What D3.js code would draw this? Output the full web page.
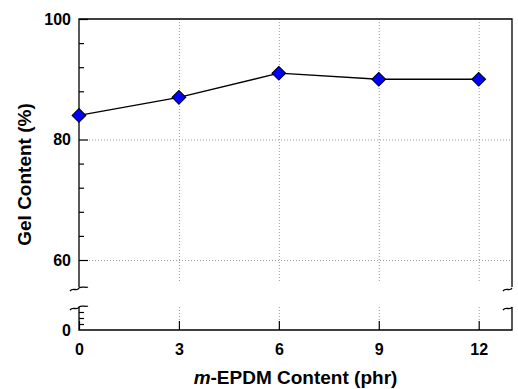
<!DOCTYPE html>
<html>
<head>
<meta charset="utf-8">
<script src="https://cdn.jsdelivr.net/npm/d3@7"></script>
<style>
  body { margin: 0; background: #fff; }
  svg { display: block; font-family: "Liberation Sans", Arial, sans-serif; }
  .tick text { font-weight: bold; font-size: 16px; fill: #000; }
</style>
</head>
<body>
<div id="vis-container"></div>
<script>
// ------------------------------ DATA ------------------------------ //
const epdmContent = [0, 3, 6, 9, 12];
const gelContent = [84, 87, 91, 90, 90];
const xTicks = [0, 3, 6, 9, 12];
const yMajorTicks = [60, 80, 100];
const yMinorTicks = [64, 68, 72, 76, 84, 88, 92, 96];
const yGrid = [60, 80];
const lowerMinorTicks = [1, 2, 3];

// ------------------------------ SET UP ------------------------------ //
const width = 518;
const height = 389;
const plot = { left: 79, right: 512, top: 19, bottom: 330 };
const breakTop = 287;      // end of the upper axis segment
const breakBottom = 307;   // start of the lower axis segment

const svg = d3.select("#vis-container")
  .append("svg")
  .attr("width", width)
  .attr("height", height);

// Scales
const x = d3.scaleLinear().domain([0, 13]).range([plot.left, plot.right]);
const y = d3.scaleLinear().domain([60, 100]).range([260, plot.top]);
const yLow = d3.scaleLinear().domain([0, 4]).range([plot.bottom, 306]);

// ------------------------------ GRID ------------------------------ //
const dotted = { stroke: "#9a9a9a", dash: "1,2" };

svg.append("g").selectAll("line")
  .data(yGrid)
  .join("line")
  .attr("x1", plot.left + 10)
  .attr("x2", plot.right)
  .attr("y1", d => y(d) + 0.5)
  .attr("y2", d => y(d) + 0.5)
  .attr("stroke", dotted.stroke)
  .attr("stroke-dasharray", dotted.dash);

const vGrid = svg.append("g");
xTicks.filter(d => d > 0).forEach(d => {
  vGrid.append("line")
    .attr("x1", x(d) + 0.5).attr("x2", x(d) + 0.5)
    .attr("y1", plot.top).attr("y2", breakTop - 4)
    .attr("stroke", dotted.stroke)
    .attr("stroke-dasharray", dotted.dash);
  vGrid.append("line")
    .attr("x1", x(d) + 0.5).attr("x2", x(d) + 0.5)
    .attr("y1", breakBottom).attr("y2", plot.bottom - 9)
    .attr("stroke", dotted.stroke)
    .attr("stroke-dasharray", dotted.dash);
});

// ------------------------------ AXES ------------------------------ //
// Upper y axis (ticks inward)
svg.append("g")
  .attr("transform", `translate(${plot.left},0)`)
  .call(d3.axisLeft(y).tickValues(yMajorTicks).tickSizeInner(-9).tickSizeOuter(0).tickPadding(8))
  .call(g => g.select(".domain").remove())
  .call(g => g.selectAll(".tick line").attr("stroke", "#000").attr("stroke-width", 1.2));

svg.append("g")
  .attr("transform", `translate(${plot.left},0)`)
  .call(d3.axisLeft(y).tickValues(yMinorTicks).tickSizeInner(-5).tickSizeOuter(0).tickFormat(""))
  .call(g => g.select(".domain").remove())
  .call(g => g.selectAll(".tick line").attr("stroke", "#000").attr("stroke-width", 1.2));

// Lower y axis segment
svg.append("g")
  .attr("transform", `translate(${plot.left},0)`)
  .call(d3.axisLeft(yLow).tickValues([0]).tickFormat(d3.format("d")).tickSizeInner(0).tickSizeOuter(0).tickPadding(8))
  .call(g => g.select(".domain").remove());

svg.append("g")
  .attr("transform", `translate(${plot.left},0)`)
  .call(d3.axisLeft(yLow).tickValues(lowerMinorTicks).tickSizeInner(-5).tickSizeOuter(0).tickFormat(""))
  .call(g => g.select(".domain").remove())
  .call(g => g.selectAll(".tick line").attr("stroke", "#000").attr("stroke-width", 1.2));

// x axis
svg.append("g")
  .attr("transform", `translate(0,${plot.bottom})`)
  .call(d3.axisBottom(x).tickValues(xTicks).tickSizeInner(-9).tickSizeOuter(0).tickPadding(14))
  .call(g => g.select(".domain").remove())
  .call(g => g.selectAll(".tick line").attr("stroke", "#000").attr("stroke-width", 1.2));

// Frame with the axis break
const frame = svg.append("g")
  .attr("fill", "none")
  .attr("stroke", "#000")
  .attr("stroke-width", 1.3);

frame.append("path")
  .attr("d", `M${plot.left},${breakTop} V${plot.top} H${plot.right} V${breakTop}`);
frame.append("path")
  .attr("d", `M${plot.left},${breakBottom} V${plot.bottom} H${plot.right} V${breakBottom}`);

// Break squiggles
function squiggle(cx, cy, left, right) {
  return `M${cx - left},${cy + 2} C${cx - left + 3},${cy - 2} ${cx - 2},${cy + 3} ${cx},${cy - 1}` +
    (right > 0 ? ` C${cx + 2},${cy - 3} ${cx + right - 2},${cy - 1} ${cx + right},${cy - 2}` : "");
}
[plot.left, plot.right].forEach(cx => {
  const right = cx === plot.left ? 9 : 0;
  frame.append("path").attr("d", squiggle(cx, breakTop + 2, 9, right));
  frame.append("path").attr("d", squiggle(cx, breakBottom + 1, 9, right));
});

// ------------------------------ DATA MARKS ------------------------------ //
const points = epdmContent.map((d, i) => [d, gelContent[i]]);

svg.append("path")
  .datum(points)
  .attr("fill", "none")
  .attr("stroke", "#000")
  .attr("stroke-width", 1.3)
  .attr("d", d3.line().x(d => x(d[0])).y(d => y(d[1])));

svg.append("g").selectAll("path")
  .data(points)
  .join("path")
  .attr("transform", d => `translate(${x(d[0])},${y(d[1])}) rotate(45)`)
  .attr("d", d3.symbol(d3.symbolSquare, 95))
  .attr("fill", "#0000ff")
  .attr("stroke", "#000")
  .attr("stroke-width", 1);

// ------------------------------ LABELS ------------------------------ //
svg.append("text")
  .attr("transform", `translate(31,${(plot.top + plot.bottom) / 2}) rotate(-90)`)
  .attr("text-anchor", "middle")
  .attr("font-weight", "bold")
  .attr("font-size", 19)
  .text("Gel Content (%)");

const xTitle = svg.append("text")
  .attr("x", (plot.left + plot.right) / 2)
  .attr("y", 384)
  .attr("text-anchor", "middle")
  .attr("font-weight", "bold")
  .attr("font-size", 19);
xTitle.append("tspan").attr("font-style", "italic").text("m");
xTitle.append("tspan").text("-EPDM Content (phr)");
</script>
</body>
</html>
